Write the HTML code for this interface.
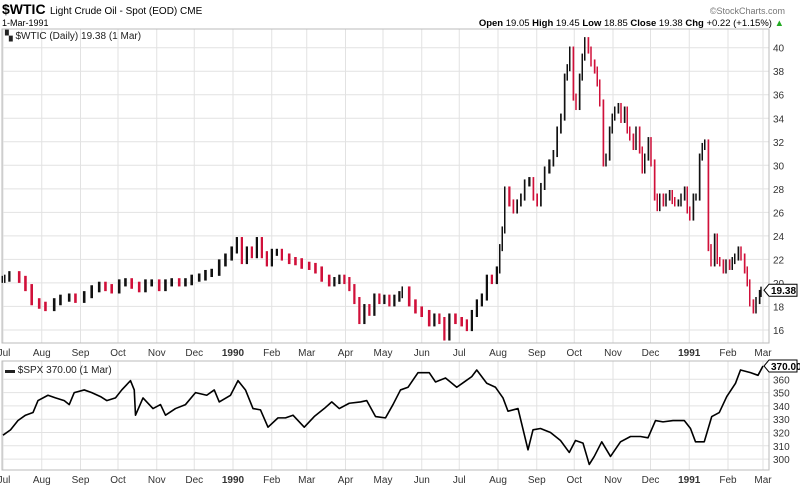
<!DOCTYPE html>
<html><head><meta charset="utf-8"><style>
body{margin:0;background:#fff;width:800px;height:485px;overflow:hidden;font-family:"Liberation Sans",sans-serif}
svg{display:block}
</style></head><body>
<svg id="c" width="800" height="485" xmlns="http://www.w3.org/2000/svg" font-family="Liberation Sans, sans-serif">
<text x="2" y="14" font-size="14" font-weight="bold">$WTIC</text>
<text x="50" y="14" font-size="10">Light Crude Oil - Spot (EOD) CME</text>
<text x="2" y="26" font-size="9">1-Mar-1991</text>
<text x="785" y="14" font-size="9" fill="#777" text-anchor="end">©StockCharts.com</text>
<text x="784" y="26" font-size="9.5" text-anchor="end"><tspan font-weight="bold">Open</tspan> 19.05 <tspan font-weight="bold">High</tspan> 19.45 <tspan font-weight="bold">Low</tspan> 18.85 <tspan font-weight="bold">Close</tspan> 19.38 <tspan font-weight="bold">Chg</tspan> +0.22 (+1.15%) <tspan fill="#2a2">▲</tspan></text>
<g id="g"></g>
</svg>
<script>
const monthLabels=["Jul","Aug","Sep","Oct","Nov","Dec","1990","Feb","Mar","Apr","May","Jun","Jul","Aug","Sep","Oct","Nov","Dec","1991","Feb","Mar"];
const monthDays=[0,31,62,92,123,153,184,215,243,274,304,335,365,396,427,457,488,518,549,580,608];
const oilTicks=[16,18,20,22,24,26,28,30,32,34,36,38,40];
const spxTicks=[300,310,320,330,340,350,360];
const oilDays=[0,2,6,14,19,24,30,35,42,47,54,59,66,72,78,83,88,94,99,104,110,115,120,126,131,136,142,147,152,158,163,168,174,179,184,188,192,196,200,204,208,212,216,220,224,230,235,240,246,251,256,262,266,270,274,278,282,286,290,294,298,302,306,310,314,318,320,326,331,336,342,346,350,354,358,363,368,372,376,380,384,388,392,396,398,400,402,406,409,412,415,418,422,425,428,431,434,438,441,444,447,450,452,454,457,459,462,464,466,469,471,474,476,478,481,483,486,488,490,493,495,498,500,502,505,507,510,512,514,517,519,522,524,526,529,531,534,536,538,541,543,546,548,550,553,555,558,560,562,565,567,570,572,574,577,579,582,584,586,589,591,594,596,598,601,603,606,607];
const oilClose=[20.3,20.4,20.7,20.3,19.6,18.4,18.1,17.9,18.4,18.7,18.8,18.6,19.0,19.5,19.8,19.6,19.4,20.0,20.1,19.8,19.5,20.0,20.0,19.6,20.0,20.1,20.0,20.1,20.4,20.5,20.8,20.9,21.7,22.2,22.8,23.6,21.9,22.8,22.4,23.6,22.4,21.7,22.6,22.6,22.2,21.9,21.8,21.5,21.4,21.1,20.4,20.0,20.2,20.4,20.2,19.6,18.5,16.8,17.9,17.5,18.8,18.5,18.7,18.3,18.7,19.0,19.4,18.3,17.7,17.4,16.6,17.1,16.8,15.4,17.1,16.8,16.6,16.2,17.4,18.3,18.8,20.4,20.2,21.1,23.0,24.5,27.9,26.8,26.2,26.8,27.3,28.5,28.7,27.3,26.8,28.2,29.6,30.2,31.0,33.0,34.1,37.5,38.3,39.8,35.8,35.0,37.5,39.2,40.6,39.8,38.7,38.1,37.0,35.3,30.2,30.7,33.0,34.1,34.7,35.0,33.9,34.7,33.0,32.4,31.6,33.0,31.3,29.6,30.7,32.1,30.2,27.3,26.4,27.3,26.8,27.3,27.6,27.0,26.8,26.8,27.3,27.9,26.2,25.6,27.3,27.3,30.7,31.6,31.9,23.0,21.7,23.9,21.9,21.7,21.1,21.7,21.4,21.9,22.2,22.8,22.2,21.1,20.0,18.3,17.7,18.5,19.1,19.38];
const spxDays=[0,6,12,18,24,28,36,42,49,53,57,65,71,78,83,90,95,102,105,106,112,120,126,130,138,146,154,163,169,173,182,188,194,200,206,212,220,226,232,241,249,257,263,269,277,286,291,298,306,312,318,324,332,341,346,354,363,369,375,379,387,394,400,404,412,420,424,430,438,446,453,458,464,469,473,479,486,494,502,510,516,522,528,536,545,550,554,561,567,573,579,586,590,598,604,608];
const spxClose=[318,322,329,333,335,344,348,346,344,341,350,352,350,347,344,346,352,359,352,333,346,338,341,333,338,341,350,348,352,343,348,359,352,338,337,324,331,331,333,324,332,338,343,338,342,343,344,332,331,341,352,354,365,365,358,361,354,358,362,367,357,354,346,336,338,307,322,323,320,314,305,314,312,296,302,313,302,313,317,317,316,329,328,329,329,323,313,313,332,335,347,357,367,365,363,370];

const NS="http://www.w3.org/2000/svg";
const g=document.getElementById('g');
const L=2,R=769;
const xDay=d=>3+d*1.25;
const P1={t:29,b:343}, P2={t:361,b:470};
const yOil=v=>47.7+(40-v)*11.76;
const ySpx=v=>366+(370-v)*1.33;
function mk(tag,attrs,parent){const e=document.createElementNS(NS,tag);for(const k in attrs)e.setAttribute(k,attrs[k]);(parent||g).appendChild(e);return e;}

function panel(P,ticks,yf,name){
  const pg=mk('g',{});
  
  
  ticks.forEach(t=>{const y=yf(t);
    const l=mk('line',{x1:L,x2:R,y1:y,y2:y,stroke:'#e2e2e2','stroke-width':1},pg);
    
    
    const tx=mk('text',{x:773,y:y+4,'font-size':10,fill:'#333'},pg);tx.textContent=t;
    
    
  });
  monthDays.forEach((d,i)=>{const x=xDay(d); if(x<L+1)return;
    const l=mk('line',{x1:x,x2:x,y1:P.t,y2:P.b,stroke:'#e2e2e2','stroke-width':1},pg);
    
    
  });
  const r=mk('rect',{x:L,y:P.t,width:R-L,height:P.b-P.t,fill:'none',stroke:'#bbb','stroke-width':1},pg);
  
  
  monthDays.forEach((d,i)=>{const x=xDay(d);
    const tx=mk('text',{x:Math.max(x,4),y:P.b+13,'font-size':10,'text-anchor':'middle',fill:'#333','font-weight':/^\d/.test(monthLabels[i])?'bold':'normal'},pg);
    tx.textContent=monthLabels[i];
    
    
  });
}
panel(P1,oilTicks,yOil,'oil');
panel(P2,spxTicks,ySpx,'spx');

// oil bars
for(let i=0;i<oilDays.length;i++){
  const c=oilClose[i], p=i?oilClose[i-1]:c;
  const x0=i?xDay(oilDays[i-1]):xDay(oilDays[i])-2, x1=xDay(oilDays[i]);
  const w=Math.min(2.6,Math.max(1.5,(x1-x0)*0.45));
  const hi=Math.max(c,p)+0.3, lo=Math.min(c,p)-0.3;
  const b=mk('rect',{x:x1-w,y:yOil(hi),width:w,height:yOil(lo)-yOil(hi),fill:c<p?'#d0103a':'#111'});
  
  
}
// spx line
const pl=mk('polyline',{points:spxDays.map((d,i)=>xDay(d)+','+ySpx(spxClose[i])).join(' '),fill:'none',stroke:'#000','stroke-width':1.6,'stroke-linejoin':'round'});



// labels
function lab(x,y,txt,name){const t=mk('text',{x:x,y:y,'font-size':10,fill:'#222'});t.textContent=txt;
  
  }
lab(5,39,'▚ $WTIC (Daily) 19.38 (1 Mar)','oil-legend');
lab(5,373,'▬ $SPX 370.00 (1 Mar)','spx-legend');
function tag(v,yv,name){const y=yv;
  const p=mk('path',{d:`M764 ${y} L769 ${y-6} H797 V${y+6} H769 Z`,fill:'#fff',stroke:'#000','stroke-width':1});
  
  
  const t=mk('text',{x:771,y:y+4,'font-size':10,'font-weight':'bold'});t.textContent=v;
  
  }
tag('19.38',yOil(oilClose[oilClose.length-1]),'oil-last-price-tag');
tag('370.00',ySpx(spxClose[spxClose.length-1]),'spx-last-price-tag');
</script>
</body></html>
